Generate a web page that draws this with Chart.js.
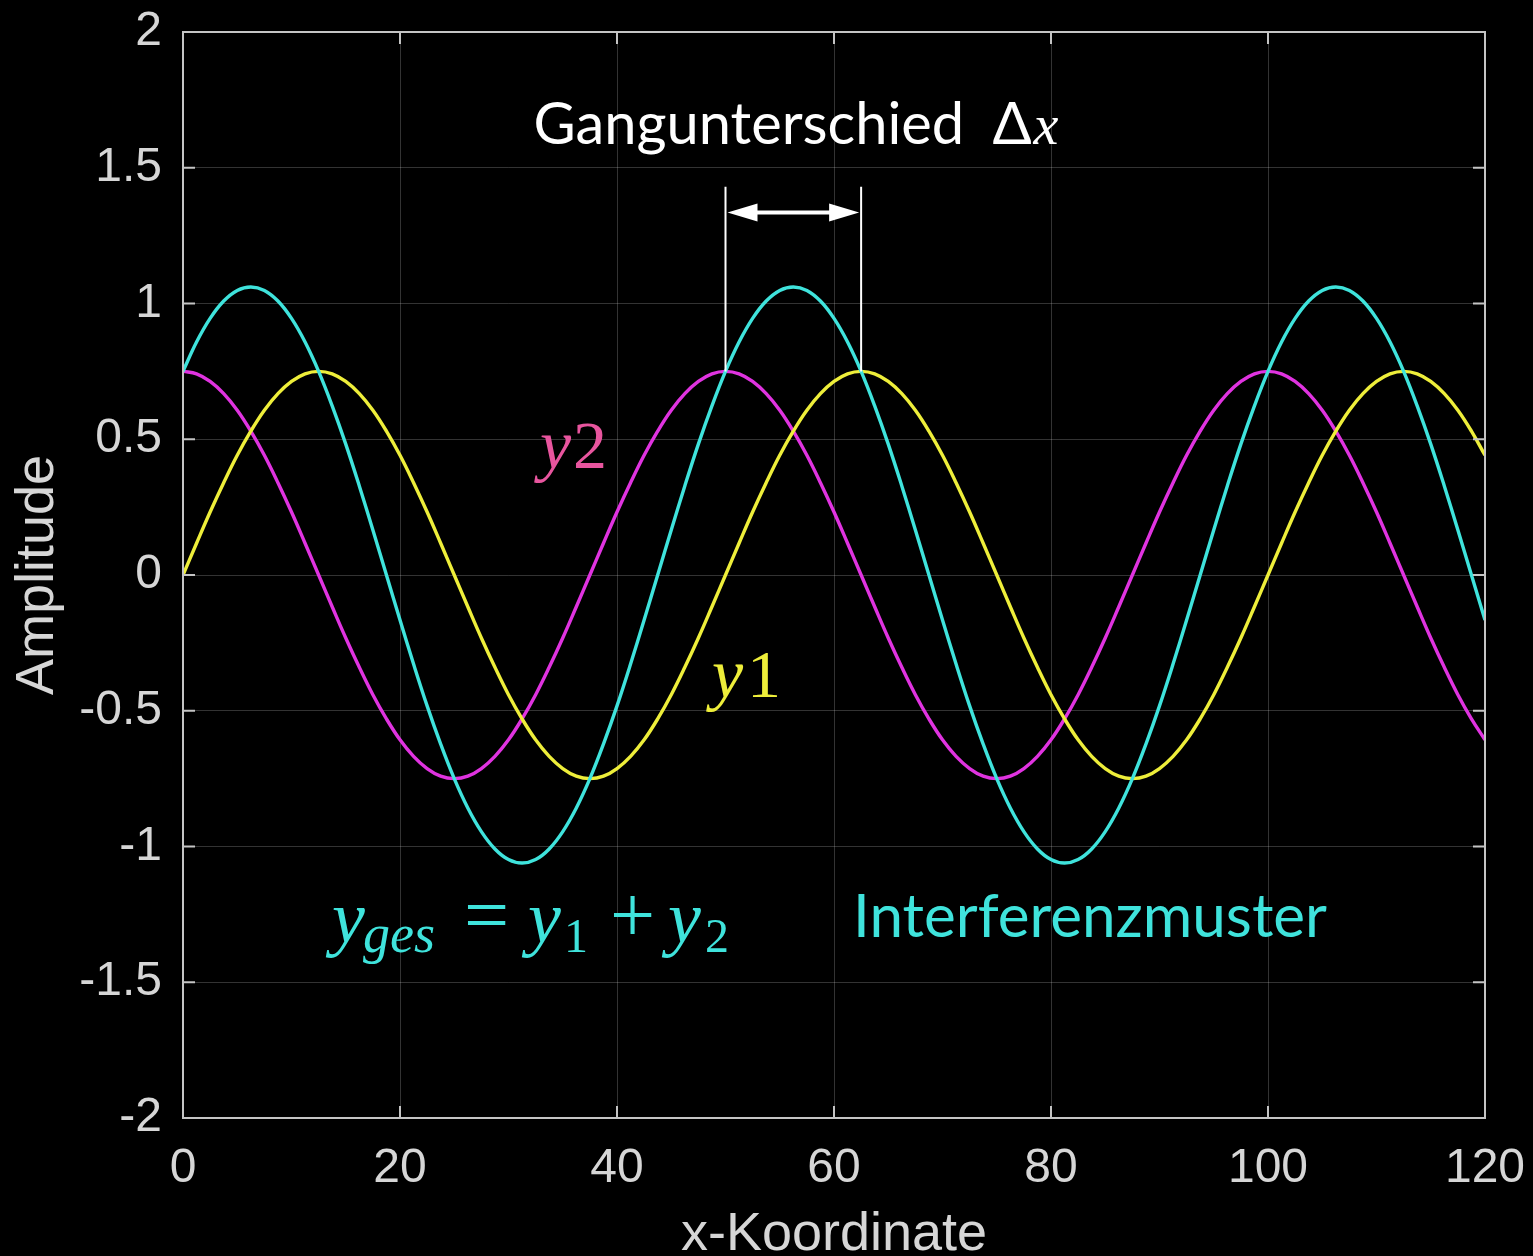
<!DOCTYPE html>
<html>
<head>
<meta charset="utf-8">
<script src="https://cdn.jsdelivr.net/npm/chart.js@4.4.1/dist/chart.umd.min.js"></script>
<style>
  html, body { margin: 0; padding: 0; background: #000; }
  canvas { display: block; }
</style>
</head>
<body>
<canvas id="waveChart" width="1533" height="1256"></canvas>
<script>
const xValues = [0, 1.25, 2.5, 3.75, 5, 6.25, 7.5, 8.75, 10, 11.25, 12.5, 13.75, 15, 16.25, 17.5, 18.75, 20, 21.25, 22.5, 23.75,
  25, 26.25, 27.5, 28.75, 30, 31.25, 32.5, 33.75, 35, 36.25, 37.5, 38.75, 40, 41.25, 42.5, 43.75, 45, 46.25, 47.5, 48.75,
  50, 51.25, 52.5, 53.75, 55, 56.25, 57.5, 58.75, 60, 61.25, 62.5, 63.75, 65, 66.25, 67.5, 68.75, 70, 71.25, 72.5, 73.75,
  75, 76.25, 77.5, 78.75, 80, 81.25, 82.5, 83.75, 85, 86.25, 87.5, 88.75, 90, 91.25, 92.5, 93.75, 95, 96.25, 97.5, 98.75,
  100, 101.25, 102.5, 103.75, 105, 106.25, 107.5, 108.75, 110, 111.25, 112.5, 113.75, 115, 116.25, 117.5, 118.75, 120];
const y1Values = [0, 0.117, 0.232, 0.34, 0.441, 0.53, 0.607, 0.668, 0.713, 0.741, 0.75, 0.741, 0.713, 0.668, 0.607, 0.53, 0.441, 0.34, 0.232, 0.117,
  0, -0.117, -0.232, -0.34, -0.441, -0.53, -0.607, -0.668, -0.713, -0.741, -0.75, -0.741, -0.713, -0.668, -0.607, -0.53, -0.441, -0.34, -0.232, -0.117,
  0, 0.117, 0.232, 0.34, 0.441, 0.53, 0.607, 0.668, 0.713, 0.741, 0.75, 0.741, 0.713, 0.668, 0.607, 0.53, 0.441, 0.34, 0.232, 0.117,
  0, -0.117, -0.232, -0.34, -0.441, -0.53, -0.607, -0.668, -0.713, -0.741, -0.75, -0.741, -0.713, -0.668, -0.607, -0.53, -0.441, -0.34, -0.232, -0.117,
  0, 0.117, 0.232, 0.34, 0.441, 0.53, 0.607, 0.668, 0.713, 0.741, 0.75, 0.741, 0.713, 0.668, 0.607, 0.53, 0.441];
const y2Values = [0.75, 0.741, 0.713, 0.668, 0.607, 0.53, 0.441, 0.34, 0.232, 0.117, 0, -0.117, -0.232, -0.34, -0.441, -0.53, -0.607, -0.668, -0.713, -0.741,
  -0.75, -0.741, -0.713, -0.668, -0.607, -0.53, -0.441, -0.34, -0.232, -0.117, 0, 0.117, 0.232, 0.34, 0.441, 0.53, 0.607, 0.668, 0.713, 0.741,
  0.75, 0.741, 0.713, 0.668, 0.607, 0.53, 0.441, 0.34, 0.232, 0.117, 0, -0.117, -0.232, -0.34, -0.441, -0.53, -0.607, -0.668, -0.713, -0.741,
  -0.75, -0.741, -0.713, -0.668, -0.607, -0.53, -0.441, -0.34, -0.232, -0.117, 0, 0.117, 0.232, 0.34, 0.441, 0.53, 0.607, 0.668, 0.713, 0.741,
  0.75, 0.741, 0.713, 0.668, 0.607, 0.53, 0.441, 0.34, 0.232, 0.117, 0, -0.117, -0.232, -0.34, -0.441, -0.53, -0.607];
const yGesValues = [0.75, 0.858, 0.945, 1.009, 1.048, 1.061, 1.048, 1.009, 0.945, 0.858, 0.75, 0.623, 0.482, 0.328, 0.166, 0, -0.166, -0.328, -0.482, -0.623,
  -0.75, -0.858, -0.945, -1.009, -1.048, -1.061, -1.048, -1.009, -0.945, -0.858, -0.75, -0.623, -0.482, -0.328, -0.166, 0, 0.166, 0.328, 0.482, 0.623,
  0.75, 0.858, 0.945, 1.009, 1.048, 1.061, 1.048, 1.009, 0.945, 0.858, 0.75, 0.623, 0.482, 0.328, 0.166, 0, -0.166, -0.328, -0.482, -0.623,
  -0.75, -0.858, -0.945, -1.009, -1.048, -1.061, -1.048, -1.009, -0.945, -0.858, -0.75, -0.623, -0.482, -0.328, -0.166, 0, 0.166, 0.328, 0.482, 0.623,
  0.75, 0.858, 0.945, 1.009, 1.048, 1.061, 1.048, 1.009, 0.945, 0.858, 0.75, 0.623, 0.482, 0.328, 0.166, 0, -0.166];
const xTicks = [0, 20, 40, 60, 80, 100, 120];
const yTicks = [-2, -1.5, -1, -0.5, 0, 0.5, 1, 1.5, 2];

// path difference marker: peaks of y2 and y1
const deltaStart = 50;
const deltaEnd = 62.5;

const axisColor = '#d6d6d6';
const cyan = '#3fe3dc';
const yellow = '#eeee3a';
const magenta = '#e033e0';

function pts(arr) {
  return xValues.map((x, i) => ({ x: x, y: arr[i] }));
}

const notes = {
  id: 'notes',
  beforeDraw(chart) {
    const c = chart.ctx;
    c.save();
    c.fillStyle = '#000';
    c.fillRect(0, 0, chart.width, chart.height);
    c.restore();
  },
  afterDatasetsDraw(chart) {
    const c = chart.ctx;
    const xs = chart.scales.x, ys = chart.scales.y;
    const a = chart.chartArea;
    const px = v => xs.getPixelForValue(v);
    const py = v => ys.getPixelForValue(v);
    c.save();

    // box + inward ticks
    c.strokeStyle = '#c4c4c4';
    c.lineWidth = 2;
    c.strokeRect(a.left, a.top, a.right - a.left, a.bottom - a.top);
    c.beginPath();
    xTicks.forEach(t => {
      c.moveTo(px(t), a.bottom); c.lineTo(px(t), a.bottom - 12);
      c.moveTo(px(t), a.top); c.lineTo(px(t), a.top + 12);
    });
    yTicks.forEach(t => {
      c.moveTo(a.left, py(t)); c.lineTo(a.left + 12, py(t));
      c.moveTo(a.right, py(t)); c.lineTo(a.right - 12, py(t));
    });
    c.stroke();

    // Gangunterschied marker
    c.strokeStyle = '#fff';
    c.fillStyle = '#fff';
    c.lineWidth = 2;
    c.beginPath();
    c.moveTo(px(deltaStart), py(0.75)); c.lineTo(px(deltaStart), py(1.43));
    c.moveTo(px(deltaEnd), py(0.75)); c.lineTo(px(deltaEnd), py(1.43));
    c.stroke();
    const ay = py(1.335), ax0 = px(deltaStart) + 2, ax1 = px(deltaEnd) - 2;
    c.lineWidth = 4;
    c.beginPath();
    c.moveTo(ax0 + 20, ay); c.lineTo(ax1 - 20, ay);
    c.stroke();
    c.beginPath();
    c.moveTo(ax0, ay); c.lineTo(ax0 + 30, ay - 9); c.lineTo(ax0 + 30, ay + 9); c.closePath();
    c.moveTo(ax1, ay); c.lineTo(ax1 - 30, ay - 9); c.lineTo(ax1 - 30, ay + 9); c.closePath();
    c.fill();

    c.textBaseline = 'alphabetic';
    c.textAlign = 'left';
    const tx = px(32.3), ty = py(1.588);
    c.font = '50px Lato';
    const w = c.measureText('Gangunterschied').width;
    c.font = (50 * 431 / w).toFixed(1) + 'px Lato';
    c.fillText('Gangunterschied', tx, ty);
    c.fillText('\u0394', tx + 459, ty);
    c.font = 'italic 56px "Liberation Serif"';
    c.fillText('x', tx + 500, ty);

    // curve labels
    c.font = 'italic 70px "Liberation Serif"';
    c.fillStyle = '#e8559e';
    c.fillText('y', px(32.9), py(0.394));
    c.font = '68px "Liberation Serif"';
    c.fillText('2', px(32.9) + 33, py(0.394));
    c.fillStyle = yellow;
    c.font = 'italic 70px "Liberation Serif"';
    c.fillText('y', px(48.75), py(-0.449));
    c.font = '68px "Liberation Serif"';
    c.fillText('1', px(48.75) + 35, py(-0.449));

    // formula y_ges = y_1 + y_2
    c.fillStyle = cyan;
    const fx = px(13.73), fy = py(-1.352);
    const main = 'italic 74px "Liberation Serif"';
    const sub = 'italic 54px "Liberation Serif"';
    const subUp = '48px "Liberation Serif"';
    const op = '80px "Liberation Serif"';
    [['y', 0, 0, main], ['ges', 31, 10, sub], ['=', 132, 0, op], ['y', 196, 0, main], ['1', 232, 10, subUp],
     ['+', 278, 0, op], ['y', 336, 0, main], ['2', 373, 10, subUp]].forEach(p => {
      c.font = p[3];
      c.fillText(p[0], fx + p[1], fy + p[2]);
    });

    c.font = '50px Lato';
    const w2 = c.measureText('Interferenzmuster').width;
    c.font = (50 * 474 / w2).toFixed(1) + 'px Lato';
    c.fillText('Interferenzmuster', px(61.75), py(-1.333));
    c.restore();
  }
};

const tickFont = { family: '"Liberation Sans", Arial, sans-serif', size: 48 };
const titleFont = { family: '"Liberation Sans", Arial, sans-serif', size: 54 };

new Chart(document.getElementById('waveChart'), {
  type: 'line',
  data: {
    datasets: [
      { label: 'yges', data: pts(yGesValues), borderColor: cyan },
      { label: 'y1', data: pts(y1Values), borderColor: yellow },
      { label: 'y2', data: pts(y2Values), borderColor: magenta }
    ].map(d => Object.assign(d, { borderWidth: 3.4, pointRadius: 0, tension: 0.4, fill: false }))
  },
  options: {
    responsive: false,
    animation: false,
    layout: { padding: { top: 32, right: 48, left: 0, bottom: 0 } },
    plugins: { legend: { display: false }, tooltip: { enabled: false } },
    scales: {
      x: {
        type: 'linear', min: 0, max: 120,
        afterBuildTicks: s => { s.ticks = xTicks.map(v => ({ value: v })); },
        afterFit: s => { s.height = 138; },
        ticks: { color: axisColor, font: tickFont, padding: 0, maxRotation: 0 },
        grid: { color: 'rgba(255,255,255,0.2)', lineWidth: 1, drawTicks: true, tickLength: 22, tickColor: 'rgba(0,0,0,0)' },
        border: { display: false },
        title: { display: true, text: 'x-Koordinate', color: axisColor, font: titleFont, padding: { top: 0, bottom: -12 } }
      },
      y: {
        min: -2, max: 2,
        afterBuildTicks: s => { s.ticks = yTicks.map(v => ({ value: v })); },
        afterFit: s => { s.width = 183; },
        ticks: { color: axisColor, font: tickFont, padding: 0, callback: v => String(v) },
        grid: { color: 'rgba(255,255,255,0.2)', lineWidth: 1, drawTicks: true, tickLength: 21, tickColor: 'rgba(0,0,0,0)' },
        border: { display: false },
        title: { display: true, text: 'Amplitude', color: axisColor, font: titleFont, padding: { top: 6, bottom: 0 } }
      }
    }
  },
  plugins: [notes]
});
</script>
</body>
</html>
